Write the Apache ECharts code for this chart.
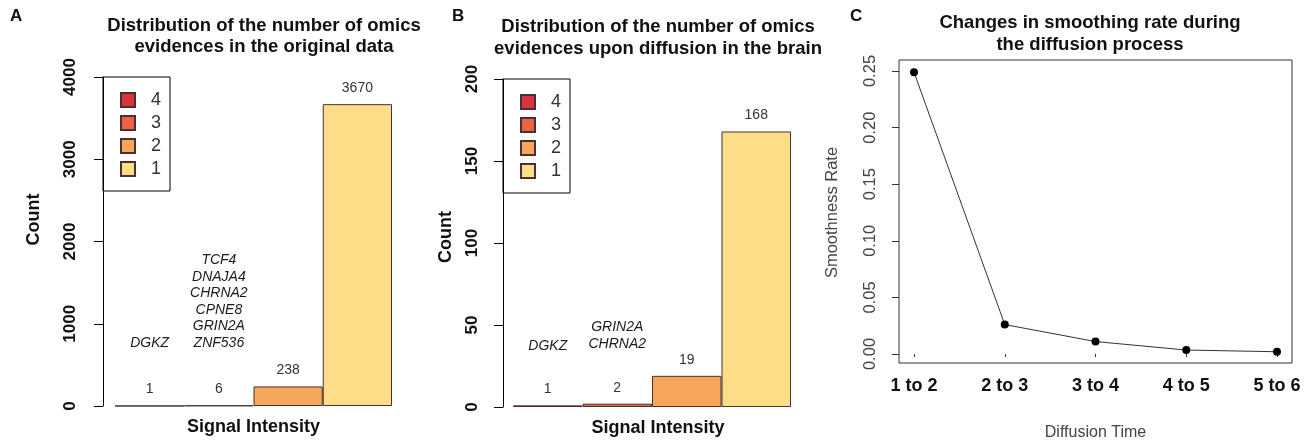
<!DOCTYPE html>
<html>
<head>
<meta charset="utf-8">
<script src="https://cdn.jsdelivr.net/npm/echarts@6/dist/echarts.min.js"></script>
<style>
html,body{margin:0;padding:0;background:#fff;}
#c{width:1308px;height:441px;}
</style>
</head>
<body>
<div id="c"></div>
<script>
// ---- data ----
const levels = ['4', '3', '2', '1'];
const levelColors = ['#d8343f', '#ee6242', '#f6a65a', '#fedd88'];
const countsA = [1, 6, 238, 3670];
const genesA = [['DGKZ'], ['TCF4', 'DNAJA4', 'CHRNA2', 'CPNE8', 'GRIN2A', 'ZNF536'], [], []];
const countsB = [1, 2, 19, 168];
const genesB = [['DGKZ'], ['GRIN2A', 'CHRNA2'], [], []];
const ticksA = [0, 1000, 2000, 3000, 4000];
const ticksB = [0, 50, 100, 150, 200];
const stepsC = ['1 to 2', '2 to 3', '3 to 4', '4 to 5', '5 to 6'];
const rateC = [0.249, 0.026, 0.011, 0.0035, 0.002];

const FF = '"Liberation Sans", Arial, Helvetica, sans-serif';

function barSeries(counts, genes, axisIdx, spacer, geneLH) {
  return levels.map((lv, i) => ({
    name: lv,
    type: 'bar',
    stack: 'p' + axisIdx,
    xAxisIndex: axisIdx,
    yAxisIndex: axisIdx,
    barCategoryGap: '0%',
    data: counts.map((v, j) => (j === i ? v : '-')),
    itemStyle: { color: levelColors[i], borderColor: '#4a3030', borderWidth: 1 },
    label: {
      show: true,
      position: 'top',
      distance: 7,
      fontFamily: FF,
      formatter: p => {
        const g = genes[p.dataIndex];
        let s = '';
        if (g.length) s = g.map(n => '{g|' + n + '}').join('\n') + '\n{s| }\n';
        return s + '{v|' + p.value + '}';
      },
      rich: {
        g: { fontStyle: 'italic', fontSize: 14, lineHeight: geneLH, color: '#1a1a1a', fontFamily: FF },
        s: { fontSize: 2, lineHeight: spacer },
        v: { fontSize: 14, lineHeight: 18, color: '#333', fontFamily: FF }
      }
    },
    emphasis: { disabled: true }
  }));
}

function yBar(idx, max, interval, offset, labelMargin, nameGap, namePad) {
  return {
    gridIndex: idx, type: 'value', min: 0, max: max, interval: interval, offset: offset,
    axisLine: { show: true, lineStyle: { color: '#000', width: 1 } },
    axisTick: { show: true, length: 9, lineStyle: { color: '#000' } },
    axisLabel: { rotate: 90, margin: labelMargin, fontSize: 17, fontWeight: 'bold', color: '#111', fontFamily: FF,
      formatter: v => String(v) },
    splitLine: { show: false },
    name: 'Count', nameLocation: 'middle', nameGap: nameGap,
    nameTextStyle: { fontSize: 18, fontWeight: 'bold', color: '#111', fontFamily: FF, padding: namePad }
  };
}

function xBar(idx, pad) {
  return {
    gridIndex: idx, type: 'category', data: levels,
    axisLine: { show: false }, axisTick: { show: false }, axisLabel: { show: false },
    name: 'Signal Intensity', nameLocation: 'middle', nameGap: 12,
    nameTextStyle: { fontSize: 18, fontWeight: 'bold', color: '#111', fontFamily: FF, verticalAlign: 'top', padding: pad }
  };
}

function legend(left, top) {
  return {
    data: levels, orient: 'vertical', left: left, top: top,
    borderColor: '#000', borderWidth: 1, borderRadius: 0,
    padding: [14, 9, 13, 17], itemWidth: 14, itemHeight: 14, itemGap: 5,
    icon: 'rect', selectedMode: false,
    textStyle: { fontSize: 18, color: '#333', fontFamily: FF, lineHeight: 17, padding: [0, 0, 0, 11] }
  };
}

const titleStyle = { fontSize: 18.5, fontWeight: 'bold', color: '#111', fontFamily: FF };
const letterStyle = { fontSize: 17, fontWeight: 'bold', color: '#111', fontFamily: FF };

const chart = echarts.init(document.getElementById('c'), null, { renderer: 'canvas' });
chart.setOption({
  animation: false,
  backgroundColor: '#fff',
  textStyle: { fontFamily: FF },
  title: [
    { text: 'A', left: 10, top: 8, padding: 0, textStyle: letterStyle },
    { text: 'B', left: 452, top: 8, padding: 0, textStyle: letterStyle },
    { text: 'C', left: 850, top: 8, padding: 0, textStyle: letterStyle },
    { text: 'Distribution of the number of omics\nevidences in the original data', left: 264, top: 15, padding: 0, textAlign: 'center',
      textStyle: Object.assign({ lineHeight: 21 }, titleStyle) },
    { text: 'Distribution of the number of omics\nevidences upon diffusion in the brain', left: 658, top: 16, padding: 0, textAlign: 'center',
      textStyle: Object.assign({ lineHeight: 22 }, titleStyle) },
    { text: 'Changes in smoothing rate during\nthe diffusion process', left: 1090, top: 12, padding: 0, textAlign: 'center',
      textStyle: Object.assign({ lineHeight: 22 }, titleStyle) }
  ],
  legend: [legend(103, 77), legend(503, 79)],
  grid: [
    { left: 115, top: 77, width: 277, height: 329, containLabel: false, outerBoundsMode: 'none' },
    { left: 513, top: 79, width: 278, height: 328, containLabel: false, outerBoundsMode: 'none' },
    { left: 914, top: 71, width: 363, height: 283, containLabel: false, outerBoundsMode: 'none' },
    { left: 899, top: 60, width: 393, height: 303, show: true, borderColor: '#333', borderWidth: 1, backgroundColor: 'transparent', outerBoundsMode: 'none' }
  ],
  xAxis: [
    xBar(0, [0, 0, 0, 0]),
    xBar(1, [0, 0, 0, 12]),
    {
      gridIndex: 2, type: 'category', data: stepsC, boundaryGap: false, offset: 9,
      axisLine: { show: false },
      axisTick: { show: true, length: 3, alignWithLabel: true, lineStyle: { color: '#333' } },
      axisLabel: { margin: 14, fontSize: 18, fontWeight: 'bold', color: '#111', fontFamily: FF },
      name: 'Diffusion Time', nameLocation: 'middle', nameGap: 62,
      nameTextStyle: { fontSize: 16, color: '#444', fontFamily: FF, verticalAlign: 'top' }
    },
    { gridIndex: 3, type: 'value', show: false, min: 0, max: 1 }
  ],
  yAxis: [
    yBar(0, 4000, 1000, 12, 24, 60, [0, 0, 0, 44]),
    yBar(1, 200, 50, 10, 22, 48, [0, 0, 0, 12]),
    {
      gridIndex: 2, type: 'value', min: 0, max: 0.25, interval: 0.05, offset: 15,
      axisLine: { show: false },
      axisTick: { show: true, length: 7, lineStyle: { color: '#333' } },
      axisLabel: { rotate: 90, margin: 20, fontSize: 16.5, color: '#444', fontFamily: FF, formatter: v => v.toFixed(2) },
      splitLine: { show: false },
      name: 'Smoothness Rate', nameLocation: 'middle', nameGap: 58,
      nameTextStyle: { fontSize: 16.5, color: '#444', fontFamily: FF }
    },
    { gridIndex: 3, type: 'value', show: false, min: 0, max: 1 }
  ],
  series: [
    ...barSeries(countsA, genesA, 0, 29, 16.5),
    ...barSeries(countsB, genesB, 1, 26, 17.3),
    {
      type: 'line', xAxisIndex: 2, yAxisIndex: 2, data: rateC,
      symbol: 'circle', symbolSize: 8,
      lineStyle: { color: '#333', width: 1 },
      itemStyle: { color: '#000' },
      emphasis: { disabled: true }
    }
  ]
});
</script>
</body>
</html>
